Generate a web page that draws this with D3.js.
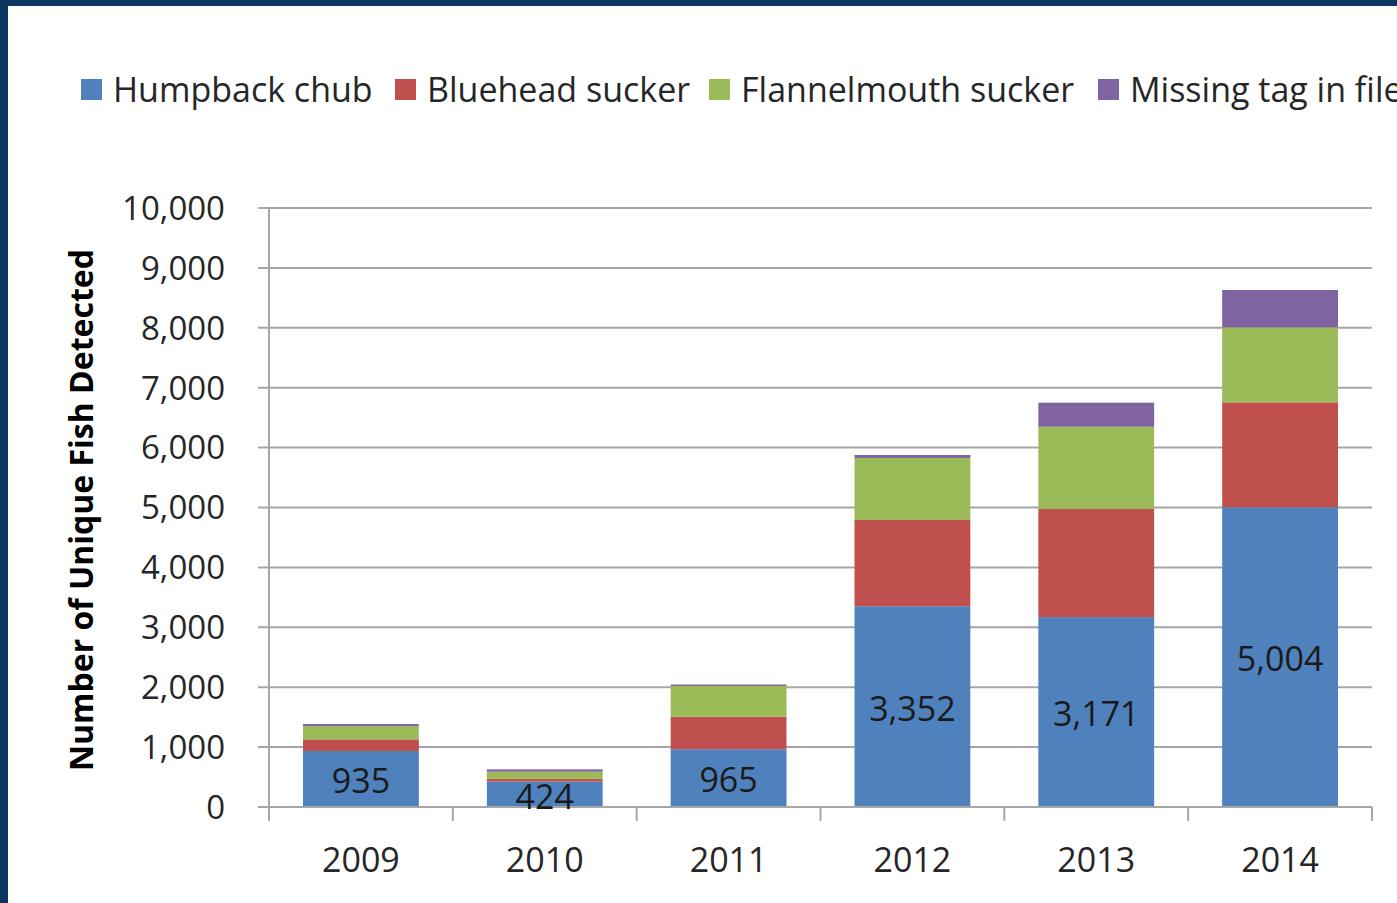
<!DOCTYPE html>
<html>
<head>
<meta charset="utf-8">
<script src="https://cdn.jsdelivr.net/npm/d3@7"></script>
<style>
  body { margin: 0; background: #fff; overflow: hidden; }
  svg { display: block; font-family: "Open Sans", "Noto Sans", sans-serif; }
</style>
</head>
<body>
<svg id="vis"></svg>
<script>
// data
const years = ['2009', '2010', '2011', '2012', '2013', '2014']
const species = ['Humpback chub', 'Bluehead sucker', 'Flannelmouth sucker', 'Missing tag in file']
const humpback = [935, 424, 965, 3352, 3171, 5004]
const bluehead = [195, 45, 545, 1440, 1804, 1752]
const flannelmouth = [220, 120, 510, 1035, 1374, 1252]
const missing = [35, 40, 25, 50, 401, 623]
const yTicks = [0, 1000, 2000, 3000, 4000, 5000, 6000, 7000, 8000, 9000, 10000]
const colors = ['#4f81bd', '#c0504d', '#9bbb59', '#8064a2']

const W = 1397, H = 903
const LEFT = 269, RIGHT = 1372, TOP = 208, BOTTOM = 807

var svg = d3.select('#vis')
    .attr('width', W)
    .attr('height', H)

// navy frame on top and left
svg.append('rect').attr('x', 0).attr('y', 0).attr('width', W).attr('height', 6).attr('fill', '#0d3561')
svg.append('rect').attr('x', 0).attr('y', 0).attr('width', 8).attr('height', H).attr('fill', '#0d3561')

var rows = years.map((y, i) => ({year: y, s0: humpback[i], s1: bluehead[i], s2: flannelmouth[i], s3: missing[i]}))
var stacked = d3.stack().keys(['s0', 's1', 's2', 's3'])(rows)

var x = d3.scaleBand().domain(years).range([LEFT, RIGHT]).paddingInner(0.37).paddingOuter(0.185)
var y = d3.scaleLinear().domain([0, 10000]).range([BOTTOM, TOP])

// gridlines
svg.append('g')
    .selectAll('line')
    .data(yTicks)
    .join('line')
    .attr('x1', LEFT - 11)
    .attr('x2', RIGHT)
    .attr('y1', d => y(d))
    .attr('y2', d => y(d))
    .attr('stroke', '#a6a6a6')
    .attr('stroke-width', 2)

// y axis line
svg.append('line')
    .attr('x1', LEFT).attr('x2', LEFT)
    .attr('y1', TOP).attr('y2', BOTTOM)
    .attr('stroke', '#a6a6a6').attr('stroke-width', 2)

// y tick labels
svg.append('g')
    .selectAll('text')
    .data(yTicks)
    .join('text')
    .attr('x', 225)
    .attr('y', d => y(d))
    .attr('dy', '0.36em')
    .attr('text-anchor', 'end')
    .attr('font-size', 33)
    .attr('fill', '#262626')
    .text(d => d3.format(',')(d))

// bars
svg.append('g')
    .selectAll('g')
    .data(stacked)
    .join('g')
    .attr('fill', (d, i) => colors[i])
    .selectAll('rect')
    .data(d => d)
    .join('rect')
    .attr('x', d => x(d.data.year))
    .attr('y', d => y(d[1]))
    .attr('width', x.bandwidth())
    .attr('height', d => y(d[0]) - y(d[1]))

// x axis baseline and category ticks
svg.append('line')
    .attr('x1', LEFT - 11).attr('x2', RIGHT)
    .attr('y1', BOTTOM).attr('y2', BOTTOM)
    .attr('stroke', '#a6a6a6').attr('stroke-width', 2)

var bounds = years.map(d => x(d) - x.step() * x.paddingInner() / 2)
bounds.push(RIGHT)
bounds[0] = LEFT
svg.append('g')
    .selectAll('line')
    .data(bounds)
    .join('line')
    .attr('x1', d => d).attr('x2', d => d)
    .attr('y1', BOTTOM).attr('y2', BOTTOM + 14)
    .attr('stroke', '#a6a6a6').attr('stroke-width', 2)

// x labels
svg.append('g')
    .selectAll('text')
    .data(years)
    .join('text')
    .attr('x', d => x(d) + x.bandwidth() / 2)
    .attr('y', 872)
    .attr('text-anchor', 'middle')
    .attr('font-size', 34)
    .attr('fill', '#262626')
    .text(d => d)

// data labels on humpback chub segments
svg.append('g')
    .selectAll('text')
    .data(stacked[0])
    .join('text')
    .attr('x', d => x(d.data.year) + x.bandwidth() / 2)
    .attr('y', d => (y(d[0]) + y(d[1])) / 2)
    .attr('dy', '0.42em')
    .attr('text-anchor', 'middle')
    .attr('font-size', 34)
    .attr('fill', '#1a1a1a')
    .text(d => d3.format(',')(d.data.s0))

// y axis title
svg.append('text')
    .attr('transform', 'translate(93,510) rotate(-90)')
    .attr('text-anchor', 'middle')
    .attr('font-size', 32)
    .attr('font-weight', 'bold')
    .attr('fill', '#000')
    .text('Number of Unique Fish Detected')

// legend
var legendX = [81, 395, 709, 1098]
var legend = svg.append('g')
    .selectAll('g')
    .data(species)
    .join('g')
    .attr('transform', (d, i) => `translate(${legendX[i]},79)`)
legend.append('rect')
    .attr('width', 21).attr('height', 21)
    .attr('fill', (d, i) => colors[i])
legend.append('text')
    .attr('x', 32)
    .attr('y', 11)
    .attr('dy', '0.36em')
    .attr('font-size', 34)
    .attr('fill', '#262626')
    .text(d => d)
</script>
</body>
</html>
